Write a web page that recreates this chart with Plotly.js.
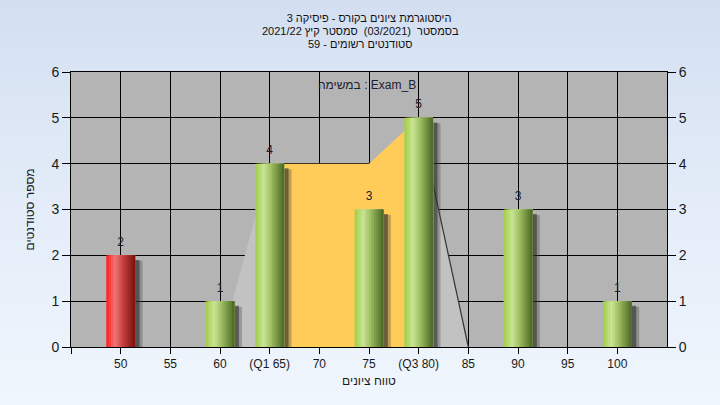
<!DOCTYPE html>
<html><head><meta charset="utf-8">
<script src="https://cdn.plot.ly/plotly-3.0.1.min.js"></script>
<style>
html,body{margin:0;padding:0;width:720px;height:405px;overflow:hidden;background:linear-gradient(to bottom,#d3dff1 0%,#e3ecf8 50%,#f0f6fd 100%);}
#chart{width:720px;height:405px;}
</style></head><body><div id="chart"></div>
<script>
// ---- data ----
const grades = [50, 55, 60, 65, 70, 75, 80, 85, 90, 95, 100];
const counts = [2, 0, 1, 4, 0, 3, 5, 0, 3, 0, 1];
const barKind = ['fail', 'pass', 'pass', 'pass', 'pass', 'pass', 'pass', 'pass', 'pass', 'pass', 'pass'];
const tickVals = [45, 50, 55, 60, 65, 70, 75, 80, 85, 90, 95, 100];
const tickText = ['', '50', '55', '60', '(Q1 65)', '70', '75', '(Q3 80)', '85', '90', '95', '100'];
const yTicks = [0, 1, 2, 3, 4, 5, 6];
const iqrX = [65, 65, 75, 80, 80];
const iqrY = [0, 4, 4, 5, 0];
const lowWhiskerX = [60, 65, 65];
const lowWhiskerY = [0, 4, 0];
const highWhiskerX = [80, 80, 85];
const highWhiskerY = [0, 5, 0];
const highLineX = [80, 85];
const highLineY = [5, 0];
const titleLines = ['היסטוגרמת ציונים בקורס - פיסיקה 3', 'בסמסטר  (03/2021)  סמסטר קיץ 2021/22', 'סטודנטים רשומים - 59'];
const xTitle = 'טווח ציונים';
const yTitle = 'מספר סטודנטים';
const seriesLabel = 'במשימה : Exam_B';

// ---- styling helpers ----
const greenStops = [[0, [159, 205, 69]], [0.3, [201, 229, 149]], [0.55, [160, 190, 98]], [1, [72, 102, 34]]];
const redStops = [[0, [255, 26, 26]], [0.3, [238, 119, 119]], [0.55, [204, 68, 68]], [1, [122, 15, 15]]];
function lerp(stops, t) {
  for (let i = 0; i < stops.length - 1; i++) {
    const [t0, c0] = stops[i], [t1, c1] = stops[i + 1];
    if (t >= t0 && t <= t1) {
      const f = (t - t0) / (t1 - t0);
      return 'rgb(' + c0.map((v, k) => Math.round(v + (c1[k] - v) * f)).join(',') + ')';
    }
  }
  return 'rgb(' + stops[stops.length - 1][1].join(',') + ')';
}
const W = 2.9, N = 12;
const traces = [];

// quartile / whisker areas (main axis, drawn beneath the bars)
traces.push({type: 'scatter', mode: 'lines', x: lowWhiskerX, y: lowWhiskerY, fill: 'toself', fillcolor: '#c2c2c2', line: {width: 0}, hoverinfo: 'skip'});
traces.push({type: 'scatter', mode: 'lines', x: highWhiskerX, y: highWhiskerY, fill: 'toself', fillcolor: '#c2c2c2', line: {width: 0}, hoverinfo: 'skip'});
traces.push({type: 'scatter', mode: 'lines', x: highLineX, y: highLineY, line: {width: 1.2, color: '#333333'}, hoverinfo: 'skip'});
traces.push({type: 'scatter', mode: 'lines', x: iqrX, y: iqrY, fill: 'toself', fillcolor: '#ffcc5a', line: {width: 0}, hoverinfo: 'skip'});

// shadows (overlay axis)
traces.push({type: 'bar', x: grades, y: counts.map(v => v > 0 ? v - 0.12 : 0), width: W, offset: -W / 2 + 0.75, yaxis: 'y2',
  marker: {color: 'rgba(70,70,70,0.35)', line: {width: 0}}, hoverinfo: 'skip'});
traces.push({type: 'bar', x: grades, y: counts.map(v => v > 0 ? v - 0.1 : 0), width: W, offset: -W / 2 + 0.45, yaxis: 'y2',
  marker: {color: 'rgba(40,40,40,0.55)', line: {width: 0}}, hoverinfo: 'skip'});

// cylinder strips
for (let i = 0; i < N; i++) {
  const t = (i + 0.5) / N;
  traces.push({
    type: 'bar', x: grades, y: counts, yaxis: 'y2',
    width: W * (1 - i / N), offset: -W / 2 + i * W / N,
    marker: {color: barKind.map(k => k === 'fail' ? lerp(redStops, t) : lerp(greenStops, t)), line: {width: 0}},
    hoverinfo: 'skip'
  });
}

// value labels
const lblX = grades.filter((g, i) => counts[i] > 0);
const lblY = counts.filter(v => v > 0);
traces.push({type: 'scatter', mode: 'markers+text', x: lblX, y: lblY, text: lblY.map(String), textposition: 'top center',
  marker: {size: 9, opacity: 0}, textfont: {size: 12, color: '#1c1c2c'}, yaxis: 'y2', cliponaxis: false, hoverinfo: 'skip'});

const layout = {
  width: 720, height: 405,
  margin: {l: 71, r: 53, t: 72, b: 58, pad: 0},
  paper_bgcolor: 'rgba(0,0,0,0)',
  plot_bgcolor: '#b4b4b4',
  barmode: 'overlay',
  showlegend: false,
  font: {family: 'Liberation Sans, DejaVu Sans, Arial, sans-serif', color: '#1a1a1a', size: 12},
  title: {text: titleLines[0], x: 0.5, xanchor: 'center', xref: 'paper', y: 1 - 18 / 405, yanchor: 'middle', yref: 'container',
    font: {size: 11, color: '#111111'}},
  xaxis: {range: [45, 105], tickmode: 'array', tickvals: tickVals, ticktext: tickText, ticks: 'outside', ticklen: 6,
    tickcolor: '#000', showline: true, linecolor: '#000', linewidth: 1, mirror: true, showgrid: true,
    gridcolor: '#000', gridwidth: 1, zeroline: false, tickfont: {size: 12},
    title: {text: xTitle, font: {size: 12}, standoff: 6}},
  yaxis: {range: [0, 6], tickmode: 'array', tickvals: yTicks, ticks: 'outside', ticklen: 8, tickcolor: '#000',
    showline: true, linecolor: '#000', linewidth: 1, showgrid: true, gridcolor: '#000', gridwidth: 1, zeroline: false,
    tickfont: {size: 14}, title: {text: yTitle, font: {size: 12}, standoff: 14}},
  yaxis2: {range: [0, 6], overlaying: 'y', side: 'right', tickmode: 'array', tickvals: yTicks, ticks: 'outside',
    ticklen: 8, tickcolor: '#000', showline: true, linecolor: '#000', linewidth: 1, showgrid: false, zeroline: false,
    tickfont: {size: 14}},
  annotations: [
    {text: titleLines[1], xref: 'paper', yref: 'paper', x: (360 - 71) / 596, y: (347 - 31) / 275, xanchor: 'center', yanchor: 'middle',
      showarrow: false, font: {size: 11, color: '#111111'}},
    {text: titleLines[2], xref: 'paper', yref: 'paper', x: (360 - 71) / 596, y: (347 - 43.5) / 275, xanchor: 'center', yanchor: 'middle',
      showarrow: false, font: {size: 11, color: '#111111'}},
    {text: seriesLabel, xref: 'paper', yref: 'paper', x: (367 - 71) / 596, y: (347 - 85) / 275, xanchor: 'center', yanchor: 'middle',
      showarrow: false, font: {size: 12, color: '#202030'}}]
};

Plotly.newPlot('chart', traces, layout, {displayModeBar: false, staticPlot: true});
</script></body></html>
